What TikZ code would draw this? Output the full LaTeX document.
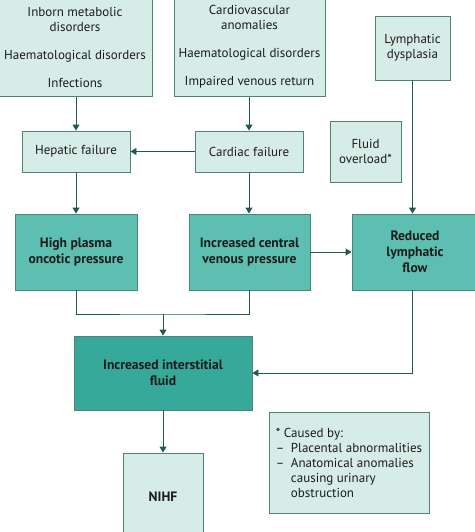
\documentclass[tikz,border=0pt]{standalone}
\usepackage{fontspec}
\setmainfont{PT Sans}
\usetikzlibrary{arrows.meta}
\definecolor{palebox}{HTML}{D6ECE7}
\definecolor{midbox}{HTML}{5CBFB1}
\definecolor{darkbox}{HTML}{36A99B}
\definecolor{boxline}{HTML}{4F8279}
\definecolor{arrowline}{HTML}{1F5A50}
\definecolor{ink}{HTML}{1C1C1C}
\tikzset{
  palenode/.style={draw=boxline, fill=palebox, line width=0.9pt, align=center, text=ink,
    font=\fontsize{13}{15}\selectfont, inner sep=0pt},
  boldnode/.style={palenode, fill=midbox, font=\fontsize{13.6}{16}\selectfont\bfseries},
  flow/.style={draw=arrowline, line width=0.9pt, -{Triangle[width=7pt,length=6pt]}},
  plain/.style={draw=arrowline, line width=0.9pt}
}
\begin{document}
\begin{tikzpicture}[x=1pt, y=1pt]
		\useasboundingbox (0,0) rectangle (474,-532);
		% top row
		\node[palenode, minimum width=154, minimum height=99] (inborn) at (75,-47)
		  {Inborn metabolic\\disorders\\[13pt]Haematological disorders\\[13pt]Infections};
		\node[palenode, minimum width=151, minimum height=99] (cardio) at (249.5,-47)
		  {Cardiovascular\\anomalies\\[13pt]Haematological disorders\\[13pt]Impaired venous return};
		\node[palenode, minimum width=75, minimum height=64] (dysplasia) at (412.5,-48)
		  {Lymphatic\\dysplasia};
		% second row
		\node[palenode, minimum width=108, minimum height=41] (hepatic) at (76,-151.5) {Hepatic failure};
		\node[palenode, minimum width=108, minimum height=41] (cardiac) at (249,-151.5) {Cardiac failure};
		\node[palenode, minimum width=71, minimum height=61] (overload) at (365.5,-151.5) {Fluid\\overload*};
		% third row
		\node[boldnode, minimum width=122, minimum height=76] (plasma) at (76,-252) {High plasma\\oncotic pressure};
		\node[boldnode, minimum width=121, minimum height=76] (venous) at (249.5,-252) {Increased central\\venous pressure};
		\node[boldnode, minimum width=126, minimum height=76] (lymflow) at (415,-252) {Reduced\\lymphatic\\flow};
		% bottom
		\node[boldnode, fill=darkbox, minimum width=178, minimum height=74] (fluid) at (163,-373) {Increased interstitial\\fluid};
		\node[palenode, font=\fontsize{13.6}{16}\selectfont\bfseries, minimum width=80, minimum height=88] (nihf) at (163,-497) {NIHF};
		\node[palenode, align=left, minimum width=160, minimum height=101] (note) at (349,-462.5)
		  {* Caused by:\\–\enspace Placental abnormalities\\–\enspace Anatomical anomalies\\\phantom{–\enspace}causing urinary\\\phantom{–\enspace}obstruction};
		\coordinate (merge) at (163,-314);
		% connectors
		\draw[flow] (inborn.south -| hepatic.north) -- (hepatic.north);
		\draw[flow] (cardio.south -| cardiac.north) -- (cardiac.north);
		\draw[flow] (cardiac.west) -- (hepatic.east);
		\draw[flow] (hepatic.south) -- (plasma.north);
		\draw[flow] (cardiac.south) -- (cardiac.south |- venous.north);
		\draw[flow] (dysplasia.south) -- (dysplasia.south |- lymflow.north);
		\draw[flow] (venous.east) -- (lymflow.west);
		\draw[plain] (plasma.south) |- (merge) -| (venous.south);
		\draw[flow] (merge) -- (fluid.north);
		\draw[flow] (lymflow.south -| dysplasia.south) |- (fluid.east);
		\draw[flow] (fluid.south) -- (nihf.north);
\end{tikzpicture}
\end{document}
